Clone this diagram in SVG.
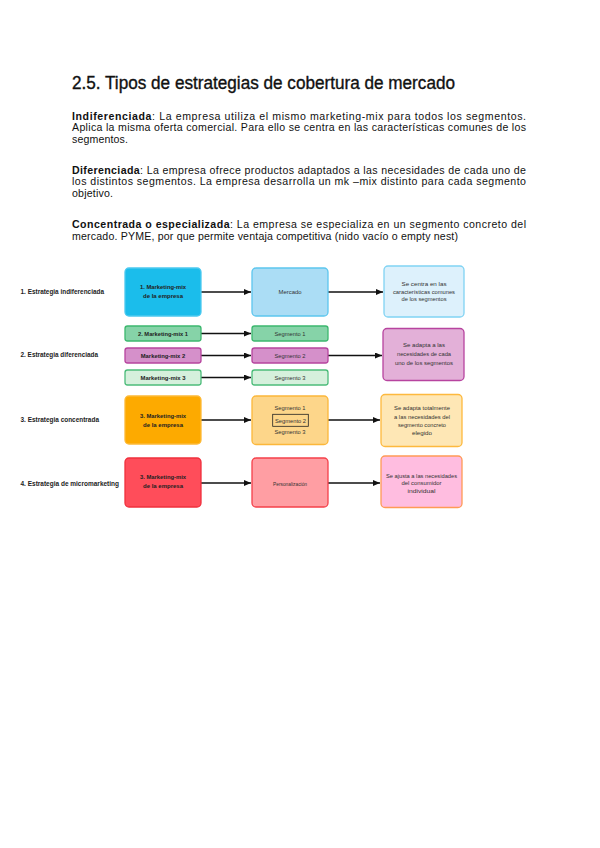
<svg xmlns="http://www.w3.org/2000/svg" width="600" height="848" viewBox="0 0 600 848">
<style>
.h{font-family:"Liberation Sans",Arial,sans-serif;font-size:17.5px;fill:#111;stroke:#111;stroke-width:0.35}
.p{font-family:"Liberation Sans",Arial,sans-serif;font-size:10.6px;fill:#111}
.b{font-weight:bold}
.lab{font-family:"Liberation Sans Narrow","Liberation Sans",Arial,sans-serif;font-size:6.4px;font-weight:bold;fill:#222}
.bt{font-family:"Liberation Sans Narrow","Liberation Sans",Arial,sans-serif;font-size:6px;font-weight:bold;fill:#222;text-anchor:middle}
.rt{font-family:"Liberation Sans Narrow","Liberation Sans",Arial,sans-serif;font-size:6px;fill:#333;text-anchor:middle}
.box{stroke-width:1.3}
.conn line{stroke:#111;stroke-width:1.3;marker-end:url(#ah)}
</style>
<defs>
<marker id="ah" markerUnits="userSpaceOnUse" markerWidth="8" markerHeight="6" refX="7" refY="3" orient="auto">
<path d="M0,0 L7,3 L0,6 z" fill="#111"/>
</marker>
</defs>
<rect width="600" height="848" fill="#fff"/>
<g id="heading">
<text class="h" x="72" y="88.5" textLength="383" lengthAdjust="spacingAndGlyphs">2.5. Tipos de estrategias de cobertura de mercado</text>
</g>
<g id="paragraphs">
<text class="p" x="72" y="119.5" textLength="454" lengthAdjust="spacing"><tspan class="b">Indiferenciada</tspan>: La empresa utiliza el mismo marketing-mix para todos los segmentos.</text>
<text class="p" x="72" y="131" textLength="454" lengthAdjust="spacing">Aplica la misma oferta comercial. Para ello se centra en las características comunes de los</text>
<text class="p" x="72" y="142.5" textLength="56" lengthAdjust="spacing">segmentos.</text>
<text class="p" x="72" y="173.5" textLength="454" lengthAdjust="spacing"><tspan class="b">Diferenciada</tspan>: La empresa ofrece productos adaptados a las necesidades de cada uno de</text>
<text class="p" x="72" y="185" textLength="454" lengthAdjust="spacing">los distintos segmentos. La empresa desarrolla un mk –mix distinto para cada segmento</text>
<text class="p" x="72" y="196.5" textLength="41" lengthAdjust="spacing">objetivo.</text>
<text class="p" x="72" y="228" textLength="454" lengthAdjust="spacing"><tspan class="b">Concentrada o especializada</tspan>: La empresa se especializa en un segmento concreto del</text>
<text class="p" x="72" y="239.5" textLength="386" lengthAdjust="spacing">mercado. PYME, por que permite ventaja competitiva (nido vacío o empty nest)</text>
</g>
<g id="row-labels">
<text class="lab" x="20.5" y="293.5" textLength="83.5" lengthAdjust="spacingAndGlyphs">1. Estrategia indiferenciada</text>
<text class="lab" x="20.5" y="357" textLength="77.5" lengthAdjust="spacingAndGlyphs">2. Estrategia diferenciada</text>
<text class="lab" x="20.5" y="422" textLength="78.5" lengthAdjust="spacingAndGlyphs">3. Estrategia concentrada</text>
<text class="lab" x="20.5" y="485.5" textLength="98.5" lengthAdjust="spacingAndGlyphs">4. Estrategia de micromarketing</text>
</g>
<g id="conectores" class="conn">
<line x1="201" y1="292" x2="251" y2="292"/>
<line x1="328" y1="292" x2="383" y2="292"/>
<line x1="201" y1="333.5" x2="251" y2="333.5"/>
<line x1="201" y1="355.5" x2="251" y2="355.5"/>
<line x1="201" y1="377.5" x2="251" y2="377.5"/>
<line x1="328" y1="355.5" x2="382" y2="355.5"/>
<line x1="201" y1="420" x2="251" y2="420"/>
<line x1="328" y1="420" x2="380" y2="420"/>
<line x1="201" y1="483" x2="251" y2="483"/>
<line x1="328" y1="483" x2="380" y2="483"/>
</g>
<g id="mm-indiferenciada">
<rect class="box" x="125" y="268" width="76" height="48" rx="4" fill="#1BBDEB" stroke="#4CC9F0"/>
<text class="bt" x="163" y="289" textLength="46" lengthAdjust="spacingAndGlyphs">1. Marketing-mix</text>
<text class="bt" x="163" y="298" textLength="40" lengthAdjust="spacingAndGlyphs">de la empresa</text>
</g>
<g id="mercado">
<rect class="box" x="252" y="268" width="76" height="48" rx="4" fill="#ABDDF5" stroke="#5CC6EE"/>
<text class="rt" x="290" y="294" textLength="23" lengthAdjust="spacingAndGlyphs">Mercado</text>
</g>
<g id="res-indiferenciada">
<rect class="box" x="384" y="266" width="80" height="51" rx="4" fill="#DDF1FC" stroke="#80D3F3"/>
<text class="rt" x="424" y="285.5" textLength="45" lengthAdjust="spacingAndGlyphs">Se centra en las</text>
<text class="rt" x="424" y="293.5" textLength="62" lengthAdjust="spacingAndGlyphs">características comunes</text>
<text class="rt" x="424" y="301" textLength="45" lengthAdjust="spacingAndGlyphs">de los segmentos</text>
</g>
<g id="mm1">
<rect class="box" x="125" y="326" width="76" height="15" rx="2.5" fill="#86D3A8" stroke="#3DB86F"/>
<text class="bt" x="163" y="335.8" textLength="50" lengthAdjust="spacingAndGlyphs">2. Marketing-mix 1</text>
</g>
<g id="mm2">
<rect class="box" x="125" y="348" width="76" height="15" rx="2.5" fill="#D590CA" stroke="#B7449F"/>
<text class="bt" x="163" y="357.8" textLength="44.5" lengthAdjust="spacingAndGlyphs">Marketing-mix 2</text>
</g>
<g id="mm3">
<rect class="box" x="125" y="370" width="76" height="15" rx="2.5" fill="#D5F0DC" stroke="#4CBC7A"/>
<text class="bt" x="163" y="379.8" textLength="45" lengthAdjust="spacingAndGlyphs">Marketing-mix 3</text>
</g>
<g id="seg1">
<rect class="box" x="252" y="326" width="76" height="15" rx="2.5" fill="#86D3A8" stroke="#3DB86F"/>
<text class="rt" x="290" y="335.8" textLength="31" lengthAdjust="spacingAndGlyphs">Segmento 1</text>
</g>
<g id="seg2">
<rect class="box" x="252" y="348" width="76" height="15" rx="2.5" fill="#D590CA" stroke="#B7449F"/>
<text class="rt" x="290" y="357.8" textLength="31" lengthAdjust="spacingAndGlyphs">Segmento 2</text>
</g>
<g id="seg3">
<rect class="box" x="252" y="370" width="76" height="15" rx="2.5" fill="#D5F0DC" stroke="#4CBC7A"/>
<text class="rt" x="290" y="379.8" textLength="31" lengthAdjust="spacingAndGlyphs">Segmento 3</text>
</g>
<g id="res-diferenciada">
<rect class="box" x="383" y="328.5" width="81" height="52" rx="4" fill="#E3B0D8" stroke="#B7449F"/>
<text class="rt" x="424" y="347" textLength="42" lengthAdjust="spacingAndGlyphs">Se adapta a las</text>
<text class="rt" x="424" y="356" textLength="54" lengthAdjust="spacingAndGlyphs">necesidades de cada</text>
<text class="rt" x="424" y="364.5" textLength="58" lengthAdjust="spacingAndGlyphs">uno de los segmentos</text>
</g>
<g id="mm-concentrada">
<rect class="box" x="125" y="396" width="76" height="48" rx="4" fill="#FDAA00" stroke="#FDB936"/>
<text class="bt" x="163" y="418" textLength="46" lengthAdjust="spacingAndGlyphs">3. Marketing-mix</text>
<text class="bt" x="163" y="426.5" textLength="40" lengthAdjust="spacingAndGlyphs">de la empresa</text>
</g>
<g id="segmentos-concentrada">
<rect class="box" x="252" y="396" width="76" height="48.5" rx="4" fill="#FDD68A" stroke="#FCB73A"/>
<text class="rt" x="290" y="410" textLength="31" lengthAdjust="spacingAndGlyphs">Segmento 1</text>
<rect x="272.7" y="414.3" width="35.6" height="12" fill="none" stroke="#222" stroke-width="0.8"/>
<text class="rt" x="290.5" y="422.5" textLength="31" lengthAdjust="spacingAndGlyphs">Segmento 2</text>
<text class="rt" x="290" y="434" textLength="31" lengthAdjust="spacingAndGlyphs">Segmento 3</text>
</g>
<g id="res-concentrada">
<rect class="box" x="381" y="394.5" width="81" height="52" rx="4" fill="#FEE7B5" stroke="#FDB93E"/>
<text class="rt" x="422" y="410" textLength="56" lengthAdjust="spacingAndGlyphs">Se adapta totalmente</text>
<text class="rt" x="422" y="418.5" textLength="56" lengthAdjust="spacingAndGlyphs">a las necesidades del</text>
<text class="rt" x="422" y="426.5" textLength="48" lengthAdjust="spacingAndGlyphs">segmento concreto</text>
<text class="rt" x="422" y="434.5" textLength="20" lengthAdjust="spacingAndGlyphs">elegido</text>
</g>
<g id="mm-micromarketing">
<rect class="box" x="125" y="458" width="76" height="49" rx="4" fill="#FF4D5A" stroke="#F0303D"/>
<text class="bt" x="163" y="479" textLength="46" lengthAdjust="spacingAndGlyphs">3. Marketing-mix</text>
<text class="bt" x="163" y="488" textLength="40" lengthAdjust="spacingAndGlyphs">de la empresa</text>
</g>
<g id="personalizacion">
<rect class="box" x="252" y="458" width="76" height="49" rx="4" fill="#FF9EA3" stroke="#F5404A"/>
<text class="rt" x="290" y="485.5" textLength="34" lengthAdjust="spacingAndGlyphs">Personalización</text>
</g>
<g id="res-micromarketing">
<rect class="box" x="381" y="456" width="81" height="51.5" rx="4" fill="#FFBDE0" stroke="#FF9A55"/>
<text class="rt" x="421.5" y="477.5" textLength="71" lengthAdjust="spacingAndGlyphs">Se ajusta a las necesidades</text>
<text class="rt" x="421.5" y="485" textLength="40" lengthAdjust="spacingAndGlyphs">del consumidor</text>
<text class="rt" x="421.5" y="493" textLength="28" lengthAdjust="spacingAndGlyphs">individual</text>
</g>
</svg>
